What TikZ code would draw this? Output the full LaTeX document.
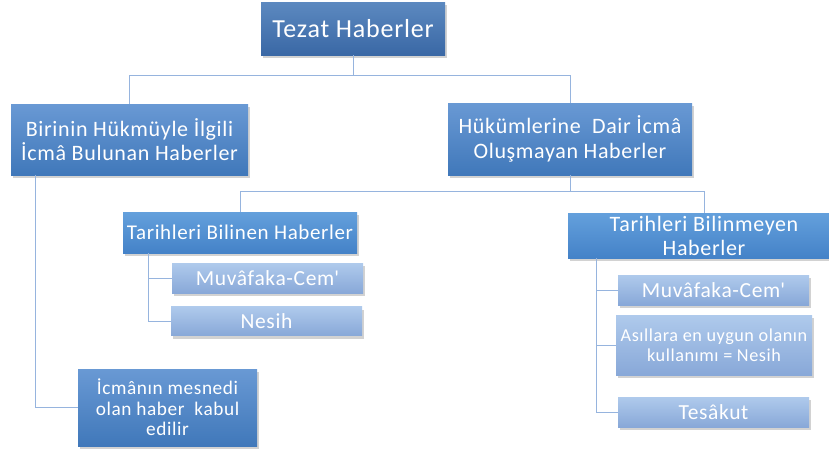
\documentclass[tikz,border=0pt]{standalone}
\usepackage{fontspec}
\setmainfont[LetterSpace=3]{Carlito}
\usetikzlibrary{shadows}
\definecolor{conncol}{RGB}{150,180,222}
\definecolor{darkT}{RGB}{92,137,192}
\definecolor{darkB}{RGB}{58,104,165}
\definecolor{midT}{RGB}{105,153,212}
\definecolor{midB}{RGB}{64,120,186}
\definecolor{brT}{RGB}{100,160,220}
\definecolor{brB}{RGB}{68,130,200}
\definecolor{ltT}{RGB}{175,202,236}
\definecolor{ltB}{RGB}{136,168,216}
\tikzset{
  boxbase/.style={text=white, align=center, inner sep=0pt, anchor=center,
    drop shadow={shadow xshift=2pt, shadow yshift=-3pt, opacity=0.35}},
  topbox/.style={boxbase, top color=darkT, bottom color=darkB, font=\fontsize{26}{30}\selectfont},
  midbox/.style={boxbase, top color=midT, bottom color=midB, font=\fontsize{22}{24.5}\selectfont},
  brbox/.style={boxbase, top color=brT, bottom color=brB, font=\fontsize{21}{24}\selectfont},
  leafbox/.style={boxbase, top color=ltT, bottom color=ltB, font=\fontsize{21.5}{24}\selectfont},
  conn/.style={draw=conncol, line width=0.9pt}
}
\begin{document}
\begin{tikzpicture}[x=1pt,y=-1pt]
\clip (0,0) rectangle (829,453);
\fill[white] (0,0) rectangle (829,453);
% nodes
\node[topbox, minimum width=184, minimum height=53] (tezat) at (353,28.5) {Tezat Haberler};
\node[midbox, minimum width=237, minimum height=71] (birinin) at (129.5,139.5) {Birinin Hükmüyle İlgili\\İcmâ Bulunan Haberler};
\node[midbox, minimum width=244, minimum height=72] (hukum) at (570,139) {Hükümlerine\ \ Dair İcmâ\\Oluşmayan Haberler};
\node[brbox, minimum width=234, minimum height=41] (tbilinen) at (240,232.5) {Tarihleri Bilinen Haberler};
\node[brbox, minimum width=272, minimum height=45, font=\fontsize{22}{24}\selectfont] (tbilinmeyen) at (704,235.5) {Tarihleri Bilinmeyen\\Haberler};
\node[leafbox, minimum width=191, minimum height=30] (mcl) at (267.5,278) {Muvâfaka-Cem\textquotesingle};
\node[leafbox, minimum width=191, minimum height=29] (nesihl) at (266.5,321) {Nesih};
\node[midbox, minimum width=179, minimum height=77, font=\fontsize{19.3}{20.5}\selectfont] (icma) at (167.5,407.5) {İcmânın\ mesnedi\\olan haber\ \ kabul\\edilir};
\node[leafbox, minimum width=191, minimum height=30] (mcr) at (713.5,290) {Muvâfaka-Cem\textquotesingle};
\node[leafbox, minimum width=196, minimum height=60, font=\fontsize{18.2}{19.5}\selectfont] (asil) at (714,345) {Asıllara en uygun olanın\\kullanımı = Nesih};
\node[leafbox, minimum width=191, minimum height=30] (tesakut) at (713.5,412) {Tesâkut};
% connectors
\draw[conn] (tezat.south) -- ++(0,20) -| (birinin.north);
\draw[conn] (tezat.south) -- ++(0,20) -| (hukum.north);
\draw[conn] (hukum.south) -- ++(0,16) -| (tbilinen.north);
\draw[conn] (hukum.south) -- ++(0,16) -| (tbilinmeyen.north);
\draw[conn] ([xshift=25pt]birinin.south west) |- (icma.west);
\draw[conn] ([xshift=26pt]tbilinen.south west) |- (mcl.west);
\draw[conn] ([xshift=26pt]tbilinen.south west) |- (nesihl.west);
\draw[conn] ([xshift=29pt]tbilinmeyen.south west) |- (mcr.west);
\draw[conn] ([xshift=29pt]tbilinmeyen.south west) |- (asil.west);
\draw[conn] ([xshift=29pt]tbilinmeyen.south west) |- (tesakut.west);
\end{tikzpicture}
\end{document}
